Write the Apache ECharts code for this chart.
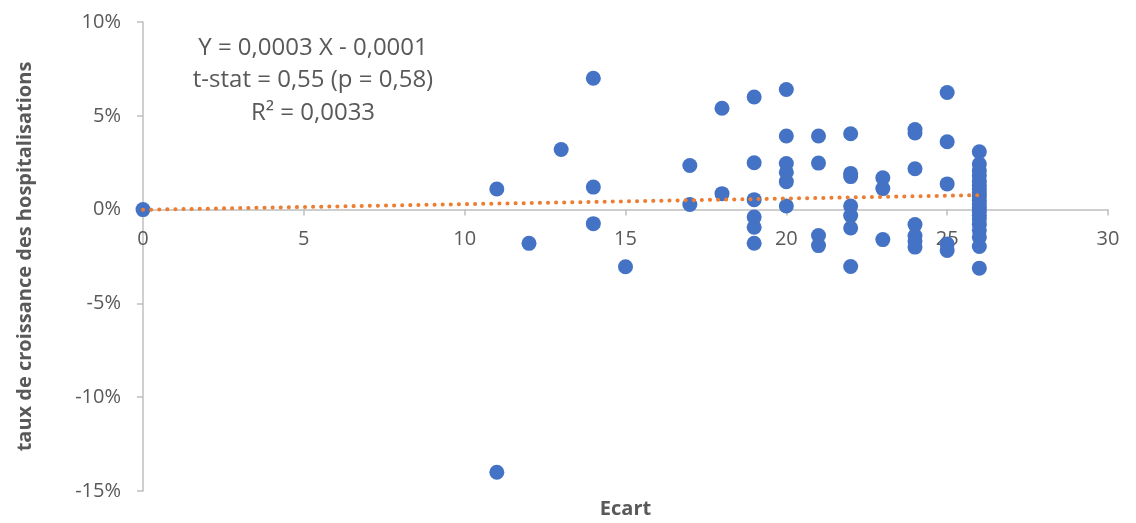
<!DOCTYPE html>
<html>
<head>
<meta charset="utf-8">
<script src="https://cdn.jsdelivr.net/npm/echarts@6/dist/echarts.min.js"></script>
<style>html,body{margin:0;padding:0;background:#fff}#c{width:1136px;height:523px}</style>
</head>
<body>
<div id="c"></div>
<script>
// Ecart (x) and taux de croissance des hospitalisations in % (y)
const ecart = [0, 11, 11, 12, 13, 14, 14, 14, 15, 17, 17, 18, 18,
  19, 19, 19, 19, 19, 19,
  20, 20, 20, 20, 20, 20,
  21, 21, 21, 21,
  22, 22, 22, 22, 22, 22, 22,
  23, 23, 23,
  24, 24, 24, 24, 24, 24, 24,
  25, 25, 25, 25, 25,
  26, 26, 26, 26, 26, 26, 26, 26, 26, 26, 26, 26, 26, 26, 26, 26, 26, 26, 26, 26];
const taux = [0, 1.1, -14.0, -1.8, 3.2, 7.0, 1.2, -0.75, -3.05, 2.35, 0.27, 5.4, 0.85,
  6.0, 2.5, 0.53, -0.4, -0.94, -1.79,
  6.4, 3.92, 2.46, 1.99, 1.49, 0.19,
  3.92, 2.48, -1.38, -1.92,
  4.04, 1.93, 1.76, 0.19, -0.32, -0.98, -3.03,
  1.7, 1.12, -1.6,
  4.27, 4.08, 2.18, -0.8, -1.4, -1.68, -2.0,
  6.24, 3.62, 1.37, -1.83, -2.18,
  3.08, 2.43, 2.07, 1.8, 1.5, 1.3, 1.1, 0.9, 0.7, 0.5, 0.3, 0.1, -0.1, -0.3, -0.5, -0.8, -1.1, -1.47, -1.97, -3.12];
const trendX = [0, 26];
const trendY = [-0.01, 0.77];
const xTicks = [0, 5, 10, 15, 20, 25, 30];
const yTicks = [-15, -10, -5, 0, 5, 10];
const annotation = ['Y = 0,0003 X - 0,0001', 't-stat = 0,55 (p = 0,58)', 'R² = 0,0033'];

const FONT = '"Open Sans", sans-serif';
const GREY = '#595959';
const GRID = {left: 143, right: 28, top: 22, bottom: 32};
const plotH = 523 - GRID.top - GRID.bottom;
const yMin = yTicks[0], yMax = yTicks[yTicks.length - 1];
// lift the x axis from the grid bottom up to the y = 0 line
const zeroOffset = -plotH * (0 - yMin) / (yMax - yMin);

const chart = echarts.init(document.getElementById('c'), null, {renderer: 'canvas'});
chart.setOption({
  animation: false,
  backgroundColor: '#fff',
  grid: Object.assign({containLabel: false, outerBoundsMode: 'none'}, GRID),
  xAxis: {
    type: 'value', min: xTicks[0], max: xTicks[xTicks.length - 1], interval: 5,
    position: 'bottom', offset: zeroOffset,
    name: 'Ecart', nameLocation: 'middle', nameGap: 290,
    nameTextStyle: {fontFamily: FONT, fontSize: 20, fontWeight: 'bold', color: GREY},
    axisLine: {onZero: false, lineStyle: {color: '#BFBFBF', width: 1.5}},
    axisTick: {show: true, length: 6, lineStyle: {color: '#BFBFBF', width: 1.5}},
    axisLabel: {fontFamily: FONT, fontSize: 20, color: GREY, margin: 20},
    splitLine: {show: false}
  },
  yAxis: {
    type: 'value', min: yMin, max: yMax, interval: 5,
    name: 'taux de croissance des hospitalisations', nameLocation: 'middle', nameGap: 108,
    nameRotate: 90,
    nameTextStyle: {fontFamily: FONT, fontSize: 20, fontWeight: 'bold', color: GREY},
    axisLine: {show: true, onZero: false, lineStyle: {color: '#BFBFBF', width: 1.5}},
    axisTick: {show: true, length: 6, lineStyle: {color: '#BFBFBF', width: 1.5}},
    axisLabel: {fontFamily: FONT, fontSize: 20, color: GREY, margin: 22, formatter: '{value}%'},
    splitLine: {show: false}
  },
  graphic: annotation.map((t, i) => ({
    type: 'text', x: 313, y: 36 + i * 32.5,
    style: {text: t, fill: GREY, font: '24px ' + FONT, textAlign: 'center'},
    z: 10
  })),
  series: [
    {
      type: 'scatter', symbolSize: 15, z: 2,
      itemStyle: {color: '#4472C4', opacity: 1},
      data: ecart.map((x, i) => [x, taux[i]])
    },
    {
      type: 'line', z: 3, symbol: 'none',
      lineStyle: {color: '#ED7D31', width: 4, type: [0.1, 8], cap: 'round'},
      data: trendX.map((x, i) => [x, trendY[i]])
    }
  ]
});
</script>
</body>
</html>
